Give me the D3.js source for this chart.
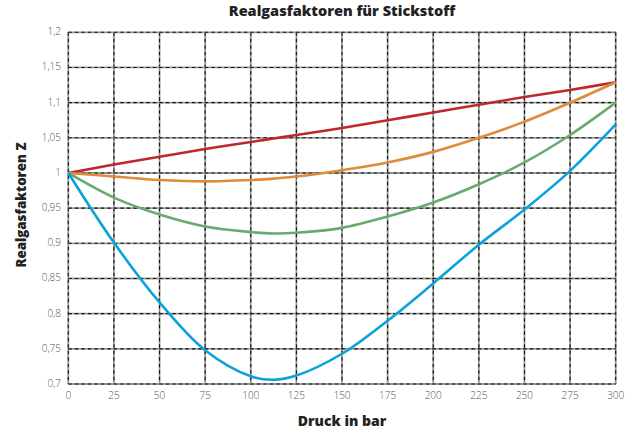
<!DOCTYPE html>
<html>
<head>
<meta charset="utf-8">
<script src="https://cdn.jsdelivr.net/npm/d3@7"></script>
<style>
    body { margin: 0; background: #fff; }
    .tick-label { font-family: "Open Sans", sans-serif; font-weight: 300; font-size: 10px; fill: #555; }
    .title { font-family: "Open Sans", sans-serif; font-weight: 800; font-size: 14.5px; fill: #222; }
    .axis-title { font-family: "Open Sans", sans-serif; font-weight: 800; font-size: 14px; fill: #222; }
</style>
</head>
<body>
<svg id="chart" width="633" height="435"></svg>
<script>
const pressure = [0, 25, 50, 75, 100, 112.5, 125, 150, 175, 200, 225, 250, 275, 300]
const seriesRed = [1, 1.012, 1.023, 1.034, 1.044, 1.049, 1.054, 1.064, 1.075, 1.086, 1.097, 1.108, 1.118, 1.129]
const seriesOrange = [1, 0.995, 0.99, 0.988, 0.99, 0.992, 0.995, 1.004, 1.015, 1.03, 1.05, 1.073, 1.1, 1.129]
const seriesGreen = [1, 0.965, 0.941, 0.924, 0.916, 0.914, 0.915, 0.922, 0.938, 0.958, 0.984, 1.015, 1.054, 1.1]
const seriesBlue = [1, 0.901, 0.816, 0.748, 0.711, 0.706, 0.712, 0.743, 0.79, 0.843, 0.898, 0.948, 1.003, 1.069]
const xTicks = [0, 25, 50, 75, 100, 125, 150, 175, 200, 225, 250, 275, 300]
const yTicks = [0.7, 0.75, 0.8, 0.85, 0.9, 0.95, 1, 1.05, 1.1, 1.15, 1.2]

const svg = d3.select("#chart")
const x = d3.scaleLinear().domain([0, 300]).range([68.3, 615.7])
const y = d3.scaleLinear().domain([0.7, 1.2]).range([384, 32.3])

// german decimal comma
const fmt = v => String(+v.toFixed(2)).replace(".", ",")

const grid = svg.append("g")
function gridLine(x1, y1, x2, y2) {
    grid.append("line").attr("x1", x1).attr("y1", y1).attr("x2", x2).attr("y2", y2)
        .attr("stroke", "#9a9a9a").attr("stroke-width", 1.8)
    grid.append("line").attr("x1", x1).attr("y1", y1).attr("x2", x2).attr("y2", y2)
        .attr("stroke", "#111").attr("stroke-width", 1.1).attr("stroke-dasharray", "3.5,3")
}
xTicks.forEach(t => gridLine(x(t), y(1.2), x(t), y(0.7)))
yTicks.forEach(t => gridLine(x(0), y(t), x(300), y(t)))

svg.append("g").selectAll("text").data(xTicks).join("text")
    .attr("class", "tick-label")
    .attr("x", d => x(d)).attr("y", 399)
    .attr("text-anchor", "middle")
    .text(d => d)

svg.append("g").selectAll("text").data(yTicks).join("text")
    .attr("class", "tick-label")
    .attr("x", 61).attr("y", d => y(d) + 3)
    .attr("text-anchor", "end")
    .text(d => fmt(d))

const series = [
    { values: seriesRed, color: "#c0272d" },
    { values: seriesOrange, color: "#df8b37" },
    { values: seriesGreen, color: "#68ab6c" },
    { values: seriesBlue, color: "#0aa3d9" }
]
const line = d3.line()
    .x((d, i) => x(pressure[i]))
    .y(d => y(d))
    .curve(d3.curveCatmullRom.alpha(0.5))

svg.append("g").selectAll("path").data(series).join("path")
    .attr("d", d => line(d.values))
    .attr("fill", "none")
    .attr("stroke", d => d.color)
    .attr("stroke-width", 2.6)

svg.append("text").attr("class", "title")
    .attr("x", 342).attr("y", 16).attr("text-anchor", "middle")
    .text("Realgasfaktoren für Stickstoff")

svg.append("text").attr("class", "axis-title")
    .attr("x", 342).attr("y", 426).attr("text-anchor", "middle")
    .text("Druck in bar")

svg.append("text").attr("class", "axis-title")
    .attr("transform", "translate(26,205) rotate(-90)")
    .attr("text-anchor", "middle")
    .style("font-size", "13.3px")
    .text("Realgasfaktoren Z")
</script>
</body>
</html>
